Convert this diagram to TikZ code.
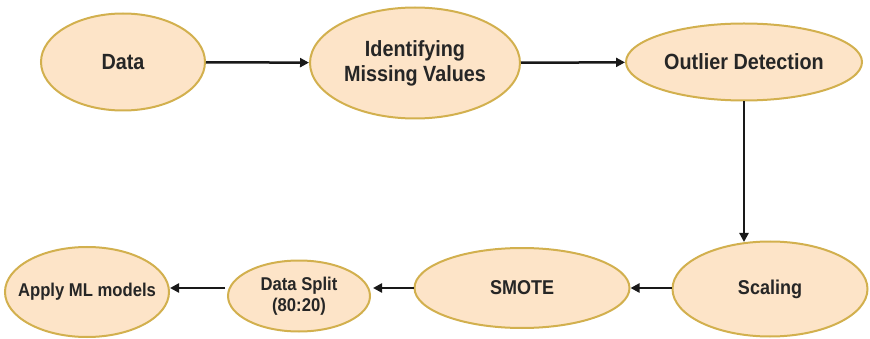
\documentclass[tikz,border=0pt]{standalone}
\usepackage{fontspec}
\setmainfont{Liberation Sans}[FakeStretch=0.9]
\usetikzlibrary{shapes.geometric,arrows.meta}
\definecolor{nodefill}{HTML}{FDE4C8}
\definecolor{nodedraw}{HTML}{D2B04E}
\tikzset{
  stage/.style={ellipse, draw=nodedraw, fill=nodefill, line width=2pt, inner sep=0pt},
  txt/.style={align=center, inner sep=0pt, text=black!85, font=\bfseries\fontsize{22}{25}\selectfont},
  mid/.style={txt, font=\bfseries\fontsize{20}{24}\selectfont},
  low/.style={txt, font=\bfseries\fontsize{18.5}{21}\selectfont},
  link/.style={-{Triangle[length=9pt,width=9pt]}, line width=2.5pt, draw=black!90}
}
\begin{document}
\begin{tikzpicture}[x=1pt,y=-1pt]
\useasboundingbox (0,0) rectangle (870,339);
\node[stage, minimum width=164, minimum height=97, label={[txt]center:Data}] (data) at (123,62) {};
\node[stage, minimum width=210, minimum height=111, label={[txt]center:Identifying\\Missing Values}] (miss) at (415,63) {};
\node[stage, minimum width=236, minimum height=77, label={[txt]center:Outlier Detection}] (outl) at (744,62) {};
\node[stage, minimum width=195, minimum height=95, label={[mid]center:Scaling}] (scal) at (770,289) {};
\node[stage, minimum width=215, minimum height=80, label={[mid]center:SMOTE}] (smote) at (522,288) {};
\node[stage, minimum width=142, minimum height=71, label={[low]center:Data Split\\(80:20)}] (split) at (299,296) {};
\node[stage, minimum width=164, minimum height=90, label={[low]center:Apply ML models}] (apply) at (87,292) {};
\coordinate (row) at (0,288);
\draw[link] (data) -- (miss);
\draw[link] (miss) -- (outl);
\draw[link] (outl.south) -- ([yshift=-1.5pt]outl.south |- scal.north);
\draw[link] (scal.west |- row) -- (smote.east |- row);
\draw[link] (smote.west |- row) -- ([xshift=2pt]split.east |- row);
\draw[link] ([xshift=-2pt]split.west |- row) -- (apply.east |- row);
\end{tikzpicture}
\end{document}
